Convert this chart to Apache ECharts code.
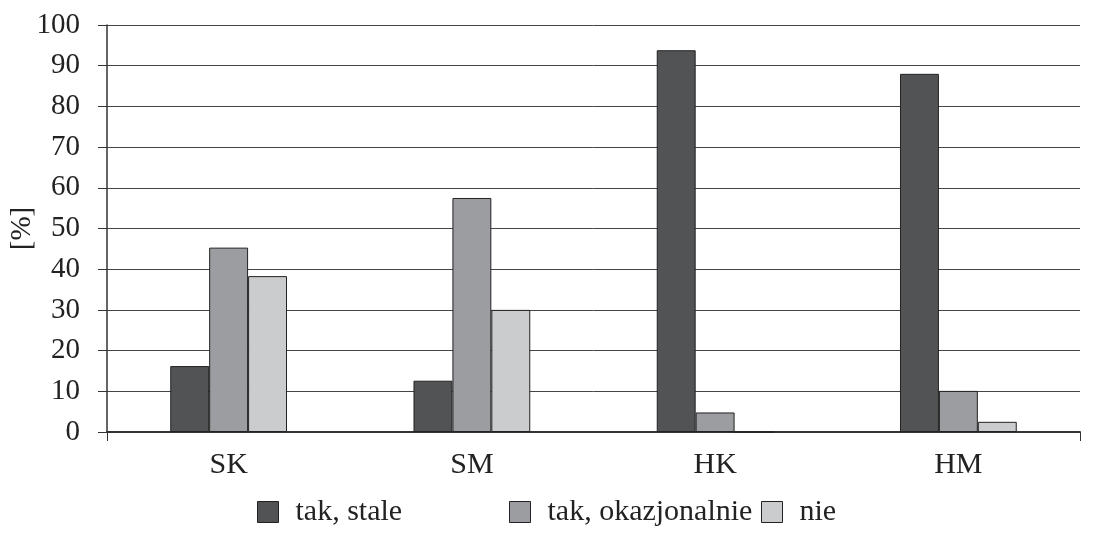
<!DOCTYPE html>
<html><head><meta charset="utf-8">
<script src="https://cdn.jsdelivr.net/npm/echarts@6/dist/echarts.min.js"></script>
<style>html,body{margin:0;padding:0;background:#fff}#c{width:1095px;height:536px}</style>
</head><body><div id="c"></div>
<script>
const categories = ['SK', 'SM', 'HK', 'HM'];
const seriesNames = ['tak, stale', 'tak, okazjonalnie', 'nie'];
const takStale = [16.2, 12.6, 93.8, 88.0];
const takOkazjonalnie = [45.3, 57.5, 4.8, 10.1];
const nie = [38.3, 30.0, 0, 2.5];
const yTicks = [0, 10, 20, 30, 40, 50, 60, 70, 80, 90, 100];

const colors = ['#525354', '#9c9da1', '#cbcccd'];
const font = 'Liberation Serif, serif';
const fs = 29;
const values = [takStale, takOkazjonalnie, nie];

const chart = echarts.init(document.getElementById('c'));
chart.setOption({
  animation: false,
  backgroundColor: '#fff',
  textStyle: { fontFamily: font },
  grid: { left: 107, right: 15, top: 25, bottom: 104, containLabel: false, outerBoundsMode: 'none' },
  legend: seriesNames.map((n, i) => ({
    data: [n],
    left: 252 + i * 252, top: 492,
    itemWidth: 21, itemHeight: 21, itemGap: 14,
    icon: 'rect',
    formatter: function (name) { return '{t|' + name + '}'; },
    textStyle: { fontFamily: font, fontSize: 30, color: '#222',
      rich: { t: { fontFamily: font, fontSize: 30, color: '#222', padding: [0, 0, 0, 12] } } },
    itemStyle: { borderColor: '#222', borderWidth: 1 }
  })),
  xAxis: {
    type: 'category', data: categories,
    axisLine: { lineStyle: { color: '#333', width: 2 } },
    axisTick: { show: true, length: 9, interval: function (i) { return i === 0; }, lineStyle: { color: '#333' } },
    axisLabel: { fontFamily: font, fontSize: 30, color: '#222', margin: 18 }
  },
  yAxis: {
    type: 'value', min: 0, max: 100, interval: 10,
    name: '[%]', nameLocation: 'middle', nameGap: 70, nameRotate: 90, nameMoveOverlap: false,
    nameTextStyle: { fontFamily: font, fontSize: fs, color: '#222' },
    axisLine: { show: true, lineStyle: { color: '#333', width: 1.5 } },
    axisTick: { show: true, length: 9, lineStyle: { color: '#333' } },
    axisLabel: { fontFamily: font, fontSize: fs, color: '#222', margin: 27,
      formatter: function (v) { return yTicks.indexOf(v) >= 0 ? String(v) : ''; } },
    splitLine: { show: true, lineStyle: { color: '#444', width: 1 } }
  },
  series: seriesNames.map((n, i) => ({
    name: n, type: 'bar', data: values[i],
    barGap: '0%', barCategoryGap: '52%',
    itemStyle: { color: colors[i], borderColor: '#222', borderWidth: 1 }
  }))
});
</script></body></html>
